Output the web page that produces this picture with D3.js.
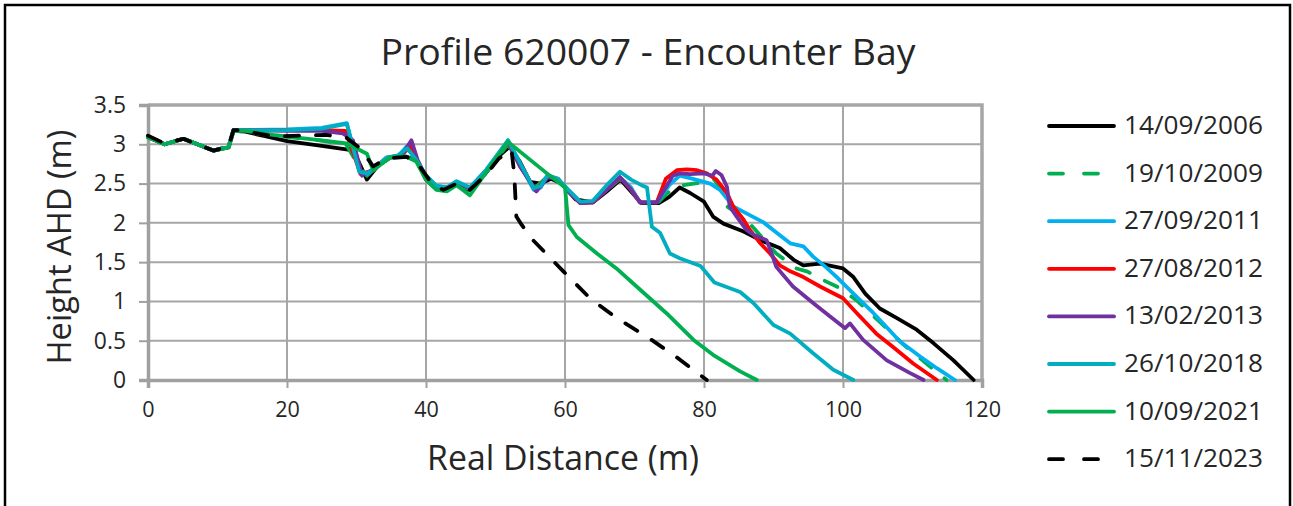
<!DOCTYPE html>
<html>
<head>
<meta charset="utf-8">
<script src="https://cdn.jsdelivr.net/npm/d3@7/dist/d3.min.js"></script>
<style>
  html, body { margin: 0; padding: 0; background: #fff; }
  svg { display: block; }
  text { font-family: "Open Sans", "DejaVu Sans", sans-serif; fill: #262626; }
</style>
</head>
<body>
<svg id="chart" width="1293" height="506"></svg>
<script>
// Beach profile survey 620007, Encounter Bay: distance (m) vs height AHD (m)
const titleText = "Profile 620007 - Encounter Bay";
const xLabel = "Real Distance (m)";
const yLabel = "Height AHD (m)";
const xTickValues = [0, 20, 40, 60, 80, 100, 120];
const xTickLabels = ["0", "20", "40", "60", "80", "100", "120"];
const yTickValues = [0, 0.5, 1, 1.5, 2, 2.5, 3, 3.5];
const yTickLabels = ["0", "0.5", "1", "1.5", "2", "2.5", "3", "3.5"];

const surveyDates = ["14/09/2006", "19/10/2009", "27/09/2011", "27/08/2012",
                     "13/02/2013", "26/10/2018", "10/09/2021", "15/11/2023"];

const p2006 = [[0,3.09],[2.4,3.0],[5.1,3.07],[9.4,2.92],[11.6,2.96],[12.3,3.17],[14,3.16],[17,3.10],[20,3.04],[25,2.98],[29,2.93],[30.2,2.80],[31.5,2.55],[33,2.72],[35,2.84],[37.2,2.84],[38.6,2.80],[40,2.55],[41.5,2.43],[43,2.42],[44.4,2.50],[46,2.42],[48.5,2.62],[50.5,2.85],[52,2.97],[53.5,2.78],[55,2.52],[56.5,2.50],[58,2.56],[59.5,2.50],[61.5,2.30],[64,2.26],[66,2.40],[68,2.55],[69.5,2.40],[71,2.25],[73.5,2.25],[75,2.33],[76.5,2.45],[78,2.38],[80,2.27],[81.3,2.08],[82.8,1.99],[85.7,1.89],[88.1,1.78],[90.9,1.68],[92.9,1.53],[94.3,1.46],[96.7,1.48],[100,1.42],[101.5,1.31],[103.2,1.10],[105.3,0.91],[107.7,0.79],[110.6,0.64],[113,0.47],[115.9,0.25],[118.8,0]];

const p2009 = [[0,3.09],[2.4,3.0],[5.1,3.07],[9.4,2.92],[11.6,2.96],[12.3,3.17],[14,3.16],[18,3.11],[24,3.06],[28.5,3.0],[30.5,2.70],[31.5,2.60],[33,2.72],[35,2.84],[37.2,2.86],[38.6,2.80],[40,2.56],[41.5,2.44],[43,2.42],[44.4,2.51],[46.3,2.42],[48.7,2.65],[51.8,3.0],[53.5,2.74],[55.7,2.45],[57.4,2.58],[59,2.55],[60.5,2.40],[62.2,2.26],[64,2.26],[66,2.42],[67.9,2.56],[69.5,2.42],[70.8,2.26],[73.5,2.27],[75,2.40],[76.5,2.47],[78.5,2.50],[80.5,2.52],[81.5,2.55],[82.5,2.42],[83.3,2.21],[86.1,2.04],[87.6,1.89],[90.4,1.61],[93.3,1.42],[94.9,1.38],[96.7,1.29],[99.1,1.19],[101.9,1.02],[105.3,0.74],[108.7,0.45],[112,0.21],[114.9,0]];

const p2011 = [[0,3.10],[2.4,3.0],[5.1,3.07],[9.4,2.92],[11.6,2.97],[12.3,3.18],[14,3.18],[20,3.19],[25,3.21],[28.6,3.27],[30.5,2.63],[31.5,2.62],[32.4,2.67],[34.3,2.82],[36,2.85],[37.2,2.97],[38.6,2.80],[40,2.60],[41.5,2.47],[43,2.45],[44.4,2.52],[46.3,2.44],[48.7,2.67],[51.8,3.05],[53.5,2.75],[55.5,2.42],[56.5,2.45],[57.5,2.60],[59,2.55],[60.5,2.40],[62.2,2.26],[64,2.27],[66,2.42],[67.9,2.58],[69.5,2.45],[70.8,2.26],[73.2,2.26],[75,2.48],[76.5,2.60],[78,2.57],[80.9,2.50],[82.3,2.42],[84.2,2.21],[86.1,2.12],[88.5,2.01],[90.5,1.87],[92.4,1.74],[94.3,1.70],[95.7,1.57],[97.5,1.44],[99.1,1.31],[101.5,1.10],[104.4,0.85],[108.2,0.49],[111.1,0.30],[113.5,0.15],[116.1,0]];

const p2012 = [[0,3.10],[2.4,3.0],[5.1,3.07],[9.4,2.92],[11.6,2.97],[12.3,3.18],[14,3.18],[20,3.18],[25,3.18],[28.4,3.17],[30.6,2.62],[32.4,2.67],[34.3,2.82],[36.5,2.86],[37.8,2.98],[38.7,2.80],[40,2.58],[41.5,2.46],[43,2.44],[44.4,2.52],[46.3,2.44],[48.7,2.67],[51.8,3.03],[53.5,2.73],[55.8,2.41],[57.5,2.59],[59,2.56],[60.5,2.40],[62.2,2.25],[64,2.26],[66,2.42],[67.9,2.58],[69.5,2.42],[70.8,2.26],[73.2,2.26],[74.5,2.56],[76.1,2.67],[77.5,2.68],[79,2.67],[80.4,2.63],[81.8,2.55],[83.3,2.38],[84.2,2.21],[85.7,2.04],[86.6,1.91],[88.1,1.74],[89.5,1.61],[90.9,1.46],[92.5,1.38],[94.3,1.31],[96.7,1.19],[100,1.04],[102,0.85],[104.8,0.59],[107.2,0.42],[110.1,0.21],[113.5,0]];

const p2013 = [[0,3.10],[2.4,3.0],[5.1,3.07],[9.4,2.92],[11.6,2.97],[12.3,3.18],[14,3.18],[20,3.17],[25,3.17],[28,3.14],[29.5,3.05],[30.8,2.60],[32.4,2.68],[34.3,2.83],[36.5,2.86],[37.9,3.05],[38.8,2.80],[40,2.58],[41.5,2.46],[43,2.44],[44.4,2.52],[46.3,2.44],[48.7,2.67],[51.8,3.03],[53.5,2.72],[55.9,2.40],[57.5,2.58],[59,2.56],[60.5,2.40],[62.2,2.25],[64,2.26],[66,2.42],[67.9,2.58],[69.5,2.42],[70.8,2.26],[73.2,2.26],[74.5,2.45],[75.5,2.60],[76.5,2.63],[78,2.62],[80,2.63],[81.2,2.60],[81.7,2.66],[82.5,2.61],[83.3,2.46],[83.7,2.21],[84.7,2.08],[86.1,1.91],[87.1,1.85],[89,1.78],[89.7,1.62],[90.4,1.44],[92.8,1.19],[95.7,0.98],[98.1,0.81],[100.3,0.66],[101,0.72],[102.9,0.51],[106.3,0.25],[109.6,0.09],[111.6,0]];

const p2018 = [[0,3.10],[2.4,3.0],[5.1,3.07],[9.4,2.92],[11.6,2.97],[12.3,3.18],[14,3.18],[20,3.18],[25,3.20],[28.6,3.26],[30.4,2.65],[31.5,2.63],[32.4,2.68],[34.3,2.83],[36,2.86],[37.3,2.95],[38.6,2.80],[40,2.60],[41.5,2.47],[43,2.45],[44.4,2.53],[46.3,2.45],[48.7,2.68],[51.8,3.05],[53.5,2.77],[55.5,2.44],[56.5,2.47],[57.5,2.61],[59,2.56],[60.5,2.42],[62.2,2.27],[64,2.28],[66,2.48],[67.9,2.65],[69.5,2.55],[71,2.48],[71.8,2.45],[72.5,1.95],[73.7,1.87],[75.1,1.61],[76.5,1.55],[79.5,1.45],[81.5,1.24],[85.2,1.12],[87.1,0.98],[90,0.70],[92.4,0.59],[95.7,0.34],[98.6,0.13],[101.5,0]];

const p2021 = [[0,3.09],[2.4,3.0],[5.1,3.07],[9.4,2.92],[11.6,2.96],[12.3,3.17],[14,3.17],[18,3.12],[24,3.06],[28.6,3.01],[31.5,2.88],[32.4,2.67],[34.8,2.83],[37,2.85],[38.6,2.78],[40,2.55],[41.5,2.42],[43,2.40],[44.4,2.48],[46.3,2.35],[48.7,2.65],[51.8,3.03],[57.4,2.63],[60,2.45],[60.5,1.97],[61.7,1.82],[64.6,1.61],[67.4,1.42],[70.3,1.19],[74.6,0.85],[78.5,0.51],[81.3,0.32],[85.2,0.11],[87.6,0]];

const p2023 = [[0,3.11],[2.4,3.01],[5.1,3.07],[9.4,2.92],[11.6,2.97],[12.3,3.18],[13.3,3.18],[18,3.10],[25.6,3.12],[28.6,3.08],[30.5,2.95],[32.4,2.72],[34.3,2.82],[37.2,2.84],[38.6,2.78],[41,2.48],[42.5,2.42],[44.4,2.50],[46.3,2.42],[48.7,2.62],[50.5,2.82],[52.3,2.93],[52.7,2.62],[53.0,2.08],[53.8,1.97],[55.4,1.78],[59.8,1.38],[63.6,1.04],[67.4,0.79],[71.8,0.55],[75.6,0.32],[80.4,0]];

const seriesColors = ["#000000", "#00b050", "#00b0f0", "#ff0000", "#7030a0", "#00adc1", "#00b050", "#000000"];
const seriesDash = [false, true, false, false, false, false, false, true];
const seriesPoints = [p2006, p2009, p2011, p2012, p2013, p2018, p2021, p2023];

const svg = d3.select("#chart");
const margin = { left: 148, right: 982, top: 105, bottom: 380 };
const x = d3.scaleLinear().domain([0, 120]).range([margin.left, margin.right]);
const y = d3.scaleLinear().domain([0, 3.5]).range([margin.bottom, margin.top]);
const gridColor = "#a6a6a6";

// fit a text element's font size to a given rendered width
function fitWidth(sel, target) {
  const w = sel.node().getComputedTextLength();
  const fs = parseFloat(sel.attr("font-size"));
  sel.attr("font-size", (fs * target / w).toFixed(2));
  return fs * target / w;
}

// outer chart frame
svg.append("rect")
  .attr("x", 5).attr("y", 5).attr("width", 1285).attr("height", 520)
  .attr("fill", "none").attr("stroke", "#000").attr("stroke-width", 2.5);

// title
const title = svg.append("text")
  .attr("x", 648).attr("y", 65).attr("text-anchor", "middle")
  .attr("font-size", 32).text(titleText);
fitWidth(title, 535);

// gridlines
const grid = svg.append("g");
grid.selectAll("line.h").data(yTickValues.filter(v => v > 0 && v < 3.5)).join("line")
  .attr("x1", x(0)).attr("x2", x(120))
  .attr("y1", d => y(d)).attr("y2", d => y(d))
  .attr("stroke", gridColor).attr("stroke-width", 2);
grid.selectAll("line.v").data(xTickValues.filter(v => v > 0 && v < 120)).join("line")
  .attr("y1", y(0)).attr("y2", y(3.5))
  .attr("x1", d => x(d)).attr("x2", d => x(d))
  .attr("stroke", gridColor).attr("stroke-width", 2);

// plot frame: top and right edges
svg.append("path")
  .attr("d", `M${x(0)},${y(3.5)}H${x(120)}V${y(0)}`)
  .attr("fill", "none").attr("stroke", gridColor).attr("stroke-width", 3.5);

// axes
const xAxis = svg.append("g").attr("transform", `translate(0,${y(0)})`)
  .call(d3.axisBottom(x).tickValues(xTickValues)
    .tickFormat((d, i) => xTickLabels[i]).tickSize(8).tickPadding(14));
const yAxis = svg.append("g").attr("transform", `translate(${x(0)},0)`)
  .call(d3.axisLeft(y).tickValues(yTickValues)
    .tickFormat((d, i) => yTickLabels[i]).tickSize(9).tickPadding(13));
[xAxis, yAxis].forEach(g => {
  g.attr("font-family", null);
  g.select(".domain").attr("stroke", "#a0a0a0").attr("stroke-width", 3.5);
  g.selectAll(".tick line").attr("stroke", "#a0a0a0").attr("stroke-width", 2);
  g.selectAll(".tick text").attr("font-size", 19).attr("fill", "#262626");
});
// size tick labels so "100" spans about 37px
const ref = xAxis.selectAll(".tick text").filter((d, i) => xTickLabels[i] === "100");
const tickSize = fitWidth(ref, 37);
xAxis.selectAll(".tick text").attr("font-size", tickSize.toFixed(2));
yAxis.selectAll(".tick text").attr("font-size", (tickSize * 1.06).toFixed(2));

// axis titles
const xt = svg.append("text").attr("x", 563).attr("y", 470)
  .attr("text-anchor", "middle").attr("font-size", 26).text(xLabel);
fitWidth(xt, 272);
const yt = svg.append("text")
  .attr("transform", `translate(71,247) rotate(-90)`)
  .attr("text-anchor", "middle").attr("font-size", 26).text(yLabel);
fitWidth(yt, 235);

// survey profiles
const line = d3.line().x(d => x(d[0])).y(d => y(d[1]));
const plot = svg.append("g");
seriesPoints.forEach((pts, i) => {
  plot.append("path")
    .datum(pts)
    .attr("d", line)
    .attr("fill", "none")
    .attr("stroke", seriesColors[i])
    .attr("stroke-width", 3.8)
    .attr("stroke-linejoin", "round")
    .attr("stroke-linecap", "round")
    .attr("stroke-dasharray", seriesDash[i] ? "14,17" : null);
});

// legend
const legend = svg.append("g");
let legendSize = null;
surveyDates.forEach((label, i) => {
  const cy = 126 + i * 47.6;
  legend.append("line")
    .attr("x1", 1049).attr("x2", 1114).attr("y1", cy).attr("y2", cy)
    .attr("stroke", seriesColors[i]).attr("stroke-width", 3.8)
    .attr("stroke-linecap", "round")
    .attr("stroke-dasharray", seriesDash[i] ? "14,21" : null);
  const t = legend.append("text").attr("x", 1124).attr("y", cy + 8)
    .attr("font-size", 22).text(label);
  if (legendSize === null) legendSize = fitWidth(t, 139);
  else t.attr("font-size", legendSize.toFixed(2));
});
</script>
</body>
</html>
